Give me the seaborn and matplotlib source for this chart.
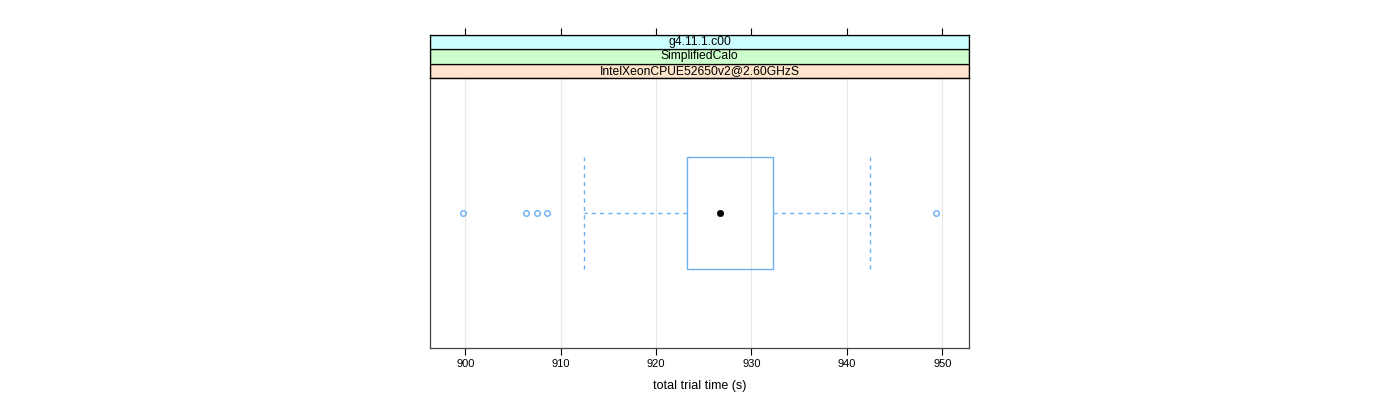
import matplotlib
matplotlib.use("Agg")
import matplotlib.pyplot as plt
import seaborn as sns
import pandas as pd
from matplotlib.patches import Rectangle

# valeurs (secondes)
strip_labels = ["IntelXeonCPUE52650v2@2.60GHzS", "SimplifiedCalo", "g4.11.1.c00"]
strip_colors = ["#ffe5cc", "#ccffcc", "#ccffff"]
box_q1 = 923.2
box_median = 926.7
box_q3 = 932.3
whisker_low = 912.4
whisker_high = 942.4
outliers = [899.8, 906.4, 907.5, 908.6, 949.3]
x_ticks = [900, 910, 920, 930, 940, 950]

sns.set_theme(style="white")
plt.rcParams["font.family"] = ["Liberation Sans", "DejaVu Sans"]
plt.rcParams["text.color"] = "black"
plt.rcParams["xtick.color"] = "black"
plt.rcParams["axes.labelcolor"] = "black"

blue = "#6cb0f2"

fig = plt.figure(figsize=(14, 4), dpi=100)
ax = fig.add_axes([430 / 1400, 1 - 348 / 400, 539 / 1400, 270 / 400])
ax_strip = fig.add_axes([430 / 1400, 1 - 78 / 400, 539 / 1400, 43 / 400], sharex=ax)

stats = [{
    "q1": box_q1, "med": box_median, "q3": box_q3,
    "whislo": whisker_low, "whishi": whisker_high,
    "fliers": outliers, "label": "",
}]
ax.bxp(stats, positions=[1], widths=0.5, orientation="horizontal",
       boxprops=dict(color=blue, linewidth=1),
       whiskerprops=dict(color=blue, linewidth=1, linestyle=(0, (3, 3))),
       capprops=dict(color=blue, linewidth=1, linestyle=(0, (3, 3))),
       capwidths=0.5,
       medianprops=dict(linewidth=0),
       flierprops=dict(marker="o", markerfacecolor="none", markeredgecolor=blue,
                       markersize=4, markeredgewidth=1))

# point médian
med_df = pd.DataFrame({"time": [box_median], "pos": [1]})
sns.scatterplot(data=med_df, x="time", y="pos", color="black", s=22,
                edgecolor="black", ax=ax, zorder=5)

ax.set_xlim(896.3, 952.8)
ax.set_ylim(0.4, 1.6)
ax.set_xticks(x_ticks)
ax.set_xticklabels([str(t) for t in x_ticks], fontsize=8)
ax.set_yticks([])
ax.set_ylabel("")
ax.set_xlabel("total trial time (s)", fontsize=9, labelpad=8)
for t in x_ticks:
    ax.axvline(t, color="#e8e8e8", linewidth=0.8, zorder=0)
ax.tick_params(axis="x", direction="out", length=5, width=0.8, color="black",
               bottom=True, pad=3)
for s in ax.spines.values():
    s.set_color("#444444")
    s.set_linewidth(0.9)

# bandeaux de titre
ax_strip.set_ylim(0, 3)
for i, (lab, col) in enumerate(zip(strip_labels, strip_colors)):
    ax_strip.add_patch(Rectangle((0, i / 3), 1, 1 / 3, transform=ax_strip.transAxes,
                                 facecolor=col, edgecolor="black", linewidth=0.9))
    ax_strip.text(0.5, (i + 0.5) / 3, lab, transform=ax_strip.transAxes,
                  ha="center", va="center", fontsize=8.7)
ax_strip.set_yticks([])
ax_strip.tick_params(axis="x", top=True, bottom=False, labeltop=False,
                     labelbottom=False, direction="out", length=5, width=0.8,
                     color="black")
for s in ax_strip.spines.values():
    s.set_color("black")
    s.set_linewidth(0.9)

fig.savefig("out.png", dpi=100, facecolor="white")
